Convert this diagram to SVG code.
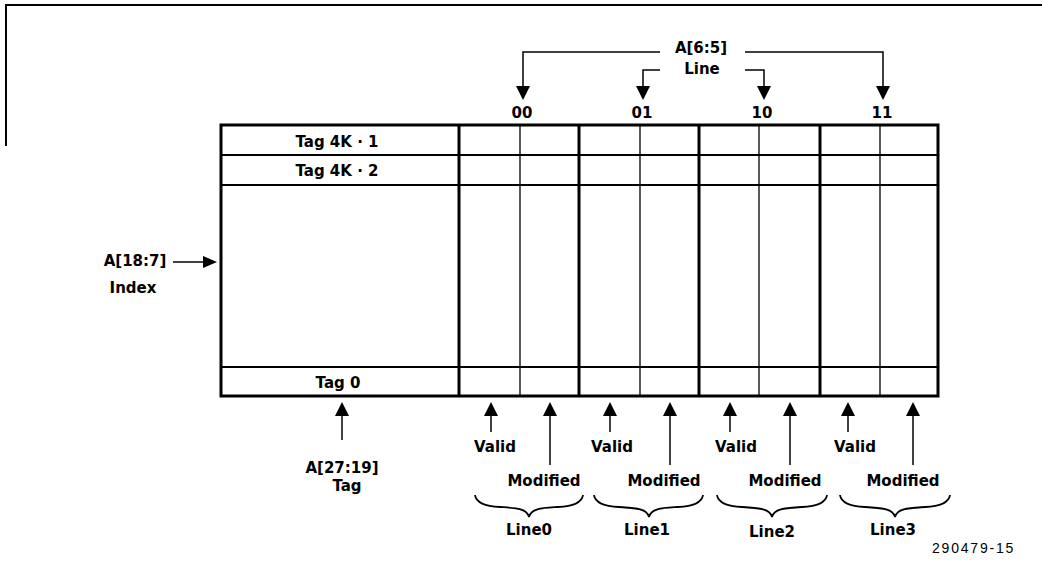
<svg xmlns="http://www.w3.org/2000/svg" width="1042" height="577" viewBox="0 0 1042 577">
<style>
text{font-family:"DejaVu Sans","Liberation Sans",sans-serif;font-weight:bold;font-size:15px;fill:#000;text-anchor:middle}
.thick{stroke:#000;stroke-width:3;fill:none}
.row{stroke:#000;stroke-width:2;fill:none}
.thin{stroke:#000;stroke-width:1.3;fill:none}
.ln{stroke:#000;stroke-width:1.5;fill:none}
.brace{stroke:#000;stroke-width:1.8;fill:none}
.ah{fill:#000}
.note{font-family:"Liberation Sans",Arial,sans-serif;font-weight:normal;font-size:14px;letter-spacing:1.8px}
</style>
<rect width="1042" height="577" fill="#fff"/>
<g id="frame">
<path d="M6,146 V5 H1042" stroke="#000" stroke-width="2" fill="none"/>
</g>
<g id="table">
<rect x="221" y="125" width="717" height="271" class="thick" fill="#fff"/>
<line x1="221" y1="155" x2="938" y2="155" class="row"/>
<line x1="221" y1="185" x2="938" y2="185" class="row"/>
<line x1="221" y1="367" x2="938" y2="367" class="row"/>
<line x1="459" y1="125" x2="459" y2="396" class="thick"/>
<line x1="579" y1="125" x2="579" y2="396" class="thick"/>
<line x1="699" y1="125" x2="699" y2="396" class="thick"/>
<line x1="820" y1="125" x2="820" y2="396" class="thick"/>
<line x1="520" y1="125" x2="520" y2="396" class="thin"/>
<line x1="640" y1="125" x2="640" y2="396" class="thin"/>
<line x1="759" y1="125" x2="759" y2="396" class="thin"/>
<line x1="880" y1="125" x2="880" y2="396" class="thin"/>
<text x="337" y="147">Tag 4K · 1</text>
<text x="337" y="176">Tag 4K · 2</text>
<text x="338" y="388">Tag 0</text>
</g>
<g id="line-select">
<text x="701" y="53">A[6:5]</text>
<text x="702" y="74">Line</text>
<text x="522" y="118">00</text>
<text x="642" y="118">01</text>
<text x="762" y="118">10</text>
<text x="882" y="118">11</text>
</g>
<g id="index-label">
<text x="135" y="266">A[18:7]</text>
<text x="133" y="293">Index</text>
</g>
<g id="tag-label">
<text x="342" y="473">A[27:19]</text>
<text x="347" y="491">Tag</text>
</g>
<g id="line0">
<text x="495" y="452">Valid</text>
<text x="544" y="486">Modified</text>
<path class="brace" d="M475,495 C476,503 485,506 500,507 C515,508 527,508 529,517 C531,508 543,508 558,507 C573,506 582,503 583,495"/>
<text x="529" y="535">Line0</text>
</g>
<g id="line1">
<text x="612" y="452">Valid</text>
<text x="664" y="486">Modified</text>
<path class="brace" d="M594,495 C595,503 604,506 619,507 C634,508 647,508 649,517 C651,508 663,508 678,507 C693,506 702,503 703,495"/>
<text x="647" y="535">Line1</text>
</g>
<g id="line2">
<text x="736" y="452">Valid</text>
<text x="785" y="486">Modified</text>
<path class="brace" d="M717,495 C718,503 727,506 742,507 C757,508 770,508 772,517 C774,508 787,508 802,507 C817,506 826,503 827,495"/>
<text x="772" y="537">Line2</text>
</g>
<g id="line3">
<text x="855" y="452">Valid</text>
<text x="903" y="486">Modified</text>
<path class="brace" d="M840,495 C841,503 850,506 865,507 C880,508 893,508 895,517 C897,508 910,508 925,507 C940,506 949,503 950,495"/>
<text x="893" y="535">Line3</text>
</g>
<g id="figure-number">
<text class="note" x="932" y="553" style="text-anchor:start">290479-15</text>
</g>
<g id="connectors">
<path class="ln" d="M660,52 H523 V88"/>
<polygon class="ah" points="516,86 530,86 523,100"/>
<path class="ln" d="M745,52 H883 V88"/>
<polygon class="ah" points="876,86 890,86 883,100"/>
<path class="ln" d="M660,70 H643 V88"/>
<polygon class="ah" points="636,86 650,86 643,100"/>
<path class="ln" d="M745,70 H764 V88"/>
<polygon class="ah" points="757,86 771,86 764,100"/>
<path class="ln" d="M173,262 H205"/>
<polygon class="ah" points="203,256 203,268 217,262"/>
<path class="ln" d="M342,440 V412"/>
<polygon class="ah" points="335,416 349,416 342,402"/>
<path class="ln" d="M491,432 V412"/><polygon class="ah" points="484,416 498,416 491,402"/>
<path class="ln" d="M550,465 V412"/><polygon class="ah" points="543,416 557,416 550,402"/>
<path class="ln" d="M610,432 V412"/><polygon class="ah" points="603,416 617,416 610,402"/>
<path class="ln" d="M670,465 V412"/><polygon class="ah" points="663,416 677,416 670,402"/>
<path class="ln" d="M730,432 V412"/><polygon class="ah" points="723,416 737,416 730,402"/>
<path class="ln" d="M790,465 V412"/><polygon class="ah" points="783,416 797,416 790,402"/>
<path class="ln" d="M848,432 V412"/><polygon class="ah" points="841,416 855,416 848,402"/>
<path class="ln" d="M913,465 V412"/><polygon class="ah" points="906,416 920,416 913,402"/>
</g>
</svg>
